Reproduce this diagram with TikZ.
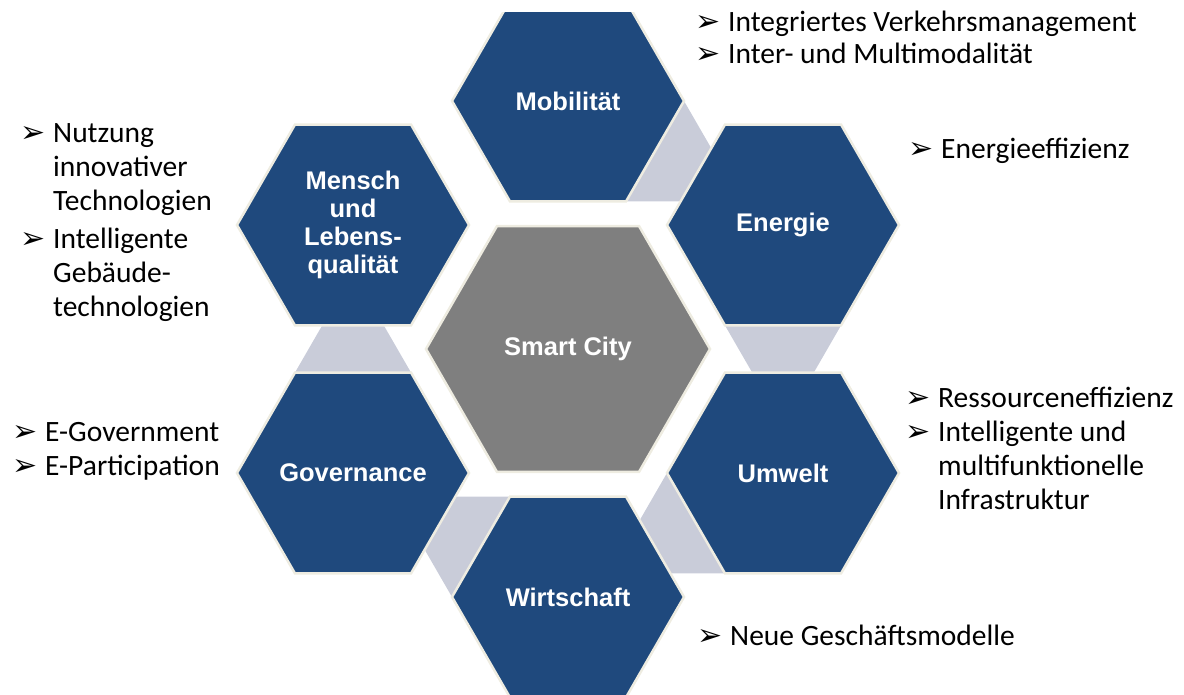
\documentclass[tikz,border=0pt]{standalone}
\usepackage{fontspec}
\newfontfamily\arialfont{Liberation Sans}
\newfontfamily\calibrifont{Carlito}
\newfontfamily\symbolfont{DejaVu Sans}
\usetikzlibrary{shapes.geometric,calc,backgrounds}

\definecolor{hexblue}{RGB}{31,73,125}
\definecolor{coregray}{RGB}{127,127,127}
\definecolor{linkgray}{RGB}{201,204,217}
\definecolor{hexrim}{RGB}{238,236,225}

\newcommand{\arrowbullet}{\makebox[33pt][l]{\symbolfont\fontsize{30}{30}\selectfont ➢}}

\begin{document}
\begin{tikzpicture}[x=1pt,y=1pt,
    hexa/.style={regular polygon,regular polygon sides=6,minimum size=232pt,inner sep=-12pt,
      fill=hexblue,draw=hexrim,line width=2.5pt,text=white,align=center,
      font=\arialfont\bfseries\fontsize{25.5}{28}\selectfont},
    core/.style={hexa,minimum size=284pt,fill=coregray},
    link/.style={fill=linkgray},
    notes/.style={anchor=base west,inner sep=0pt,font=\calibrifont\fontsize{29.5}{34}\selectfont}]
  \useasboundingbox (0,0) rectangle (1184,695);
  \clip (0,0) rectangle (1184,695);

  % hexagons
  \node[core] (city) at (568,346) {Smart City};
  \begin{scope}
    \clip (0,0) rectangle (1184,682);
    \node[hexa] (mob) at (568,594) {Mobilität};
  \end{scope}
  \node[hexa] (ene) at (783,470) {Energie};
  \node[hexa] (umw) at (783,222) {Umwelt};
  \node[hexa] (wir) at (568,98) {Wirtschaft};
  \node[hexa] (gov) at (353,222) {Governance};
  \node[hexa] (men) at (353,470) {Mensch\\und\\Lebens-\\qualität};

  % grey links, each hexagon stretched towards the next one
  \begin{scope}[on background layer]
    \foreach \h/\a in {mob/-30,ene/-90,umw/-150,wir/150,gov/90}
      \fill[link] ($(\h)+(\a-30:116)$) -- ($(\h)+(\a+30:116)$) -- ++(\a-30:60)
        -- ($(\h)+(\a-30:116)+(\a+30:60)$) -- cycle;
  \end{scope}

  % bullet lists
  \node[notes] (mobnotes) at (695,663) {\begin{tabular}[t]{@{}l@{}l@{}}
    \arrowbullet & Integriertes Verkehrsmanagement\\[-2pt]
    \arrowbullet & Inter- und Multimodalität\end{tabular}};
  \node[notes] (enenotes) at (908,536) {\begin{tabular}[t]{@{}l@{}l@{}}
    \arrowbullet & Energieeffizienz\end{tabular}};
  \node[notes] (mennotes) at (20,552) {\begin{tabular}[t]{@{}l@{}l@{}}
    \arrowbullet & Nutzung\\ & innovativer\\ & Technologien\\[4pt]
    \arrowbullet & Intelligente\\ & Gebäude-\\ & technologien\end{tabular}};
  \node[notes] (govnotes) at (12,253) {\begin{tabular}[t]{@{}l@{}l@{}}
    \arrowbullet & E-Government\\
    \arrowbullet & E-Participation\end{tabular}};
  \node[notes] (umwnotes) at (905,287) {\begin{tabular}[t]{@{}l@{}l@{}}
    \arrowbullet & Ressourceneffizienz\\
    \arrowbullet & Intelligente und\\ & multifunktionelle\\ & Infrastruktur\end{tabular}};
  \node[notes] (wirnotes) at (697,49) {\begin{tabular}[t]{@{}l@{}l@{}}
    \arrowbullet & Neue Geschäftsmodelle\end{tabular}};
\end{tikzpicture}
\end{document}
